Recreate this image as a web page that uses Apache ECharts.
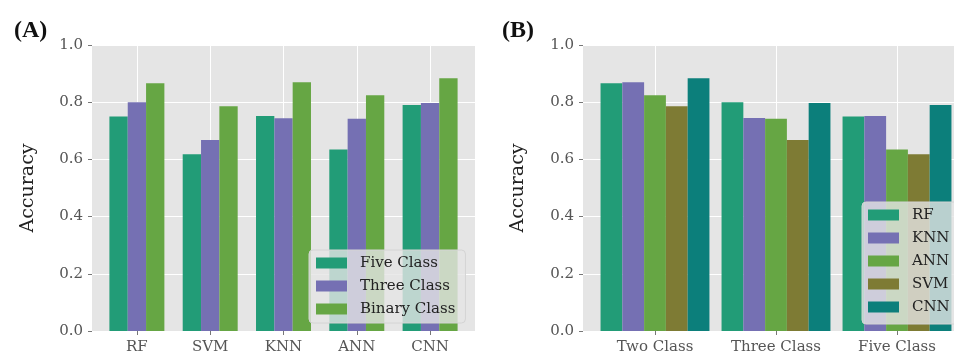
<!DOCTYPE html>
<html>
<head>
<meta charset="utf-8">
<script src="https://cdn.jsdelivr.net/npm/echarts@6/dist/echarts.min.js"></script>
<style>
html,body{margin:0;padding:0;background:#fff;}
#c{width:954px;height:355px;}
</style>
</head>
<body>
<div id="c"></div>
<script>
// ---- Panel A data ----
const catsA = ['RF', 'SVM', 'KNN', 'ANN', 'CNN'];
const namesA = ['Five Class', 'Three Class', 'Binary Class'];
const fiveClass   = [0.750, 0.618, 0.752, 0.635, 0.790];
const threeClass  = [0.800, 0.668, 0.744, 0.742, 0.797];
const binaryClass = [0.866, 0.786, 0.870, 0.824, 0.884];

// ---- Panel B data ----
const catsB = ['Two Class', 'Three Class', 'Five Class'];
const namesB = ['RF', 'KNN', 'ANN', 'SVM', 'CNN'];
const rfB  = [0.866, 0.800, 0.750];
const knnB = [0.870, 0.745, 0.752];
const annB = [0.824, 0.742, 0.635];
const svmB = [0.786, 0.668, 0.618];
const cnnB = [0.884, 0.797, 0.790];

const yTicks = [0.0, 0.2, 0.4, 0.6, 0.8, 1.0];

// ---- styling ----
const colorsA = ['#229c77', '#7570b3', '#66a644'];
const colorsB = ['#229c77', '#7570b3', '#66a644', '#7e7b34', '#0c7f7b'];
const serif = 'DejaVu Serif';
const gridA = {left: 92, width: 383, top: 45, bottom: 24};
const gridB = {left: 583, width: 386, top: 45, bottom: 24};

// matplotlib-like layout: bar width per category unit, 5% margins
function extentFor(nCats, nSeries, bw) {
  const half = nSeries * bw / 2;
  const lo = -half, hi = (nCats - 1) + half;
  const m = (hi - lo) * 0.05;
  return [lo - m, hi + m];
}
const bwA = 0.25, bwB = 0.18;
const extA = extentFor(catsA.length, namesA.length, bwA);
const extB = extentFor(catsB.length, namesB.length, bwB);
const pxA = gridA.width / (extA[1] - extA[0]);
const pxB = gridB.width / (extB[1] - extB[0]);

function groupData(vals, si, nSeries, bw) {
  const off = (si - (nSeries - 1) / 2) * bw;
  return vals.map((v, i) => [i + off, v]);
}

function xAxisFor(gi, cats, ext) {
  const idx = cats.map((c, i) => i);
  return {
    type: 'value', gridIndex: gi, min: ext[0], max: ext[1],
    axisLine: {show: false, onZero: false},
    axisTick: {show: true, length: 4, lineStyle: {color: '#777'}, customValues: idx},
    splitLine: {show: true, lineStyle: {color: '#ffffff', width: 1}},
    axisLabel: {
      margin: 9, color: '#555', fontFamily: serif, fontSize: 15, customValues: idx,
      formatter: v => (Math.abs(v - Math.round(v)) < 1e-9 && cats[Math.round(v)] !== undefined) ? cats[Math.round(v)] : ''
    }
  };
}
function yAxisFor(gi, gap) {
  return {
    type: 'value', gridIndex: gi, min: yTicks[0], max: yTicks[yTicks.length - 1], interval: 0.2,
    name: 'Accuracy', nameLocation: 'middle', nameRotate: 90, nameGap: gap,
    nameTextStyle: {fontFamily: serif, fontSize: 19, color: '#222'},
    axisLine: {show: false, onZero: false},
    axisTick: {show: true, length: 4, lineStyle: {color: '#777'}},
    splitLine: {show: true, lineStyle: {color: '#ffffff', width: 1}},
    axisLabel: {margin: 9, color: '#555', fontFamily: serif, fontSize: 15, formatter: v => v.toFixed(1)}
  };
}

const valsA = [fiveClass, threeClass, binaryClass];
const valsB = [rfB, knnB, annB, svmB, cnnB];

const series = [];
namesA.forEach((n, si) => series.push({
  type: 'bar', name: n, xAxisIndex: 0, yAxisIndex: 0,
  barWidth: bwA * pxA, barGap: '-100%',
  itemStyle: {color: colorsA[si]},
  data: groupData(valsA[si], si, namesA.length, bwA)
}));
namesB.forEach((n, si) => series.push({
  type: 'bar', name: n, xAxisIndex: 1, yAxisIndex: 1,
  barWidth: bwB * pxB, barGap: '-100%',
  itemStyle: {color: colorsB[si]},
  data: groupData(valsB[si], si, namesB.length, bwB)
}));

const legendCommon = {
  orient: 'vertical', selectedMode: false, icon: 'rect',
  itemWidth: 31, itemHeight: 11, itemGap: 7,
  backgroundColor: 'rgba(229,229,229,0.8)', borderColor: '#d4d4d4', borderWidth: 1, borderRadius: 4,
  textStyle: {fontFamily: serif, fontSize: 15, color: '#222', lineHeight: 16, padding: [0, 0, 0, 8]}
};

const option = {
  animation: false,
  backgroundColor: '#ffffff',
  title: [
    {text: '(A)', left: 9, top: 14, textStyle: {fontFamily: 'Liberation Serif', fontWeight: 'bold', fontSize: 24, color: '#111'}},
    {text: '(B)', left: 497, top: 14, textStyle: {fontFamily: 'Liberation Serif', fontWeight: 'bold', fontSize: 24, color: '#111'}}
  ],
  grid: [
    Object.assign({show: true, backgroundColor: '#e5e5e5', borderWidth: 0, outerBoundsMode: 'none', containLabel: false}, gridA),
    Object.assign({show: true, backgroundColor: '#e5e5e5', borderWidth: 0, outerBoundsMode: 'none', containLabel: false}, gridB)
  ],
  xAxis: [xAxisFor(0, catsA, extA), xAxisFor(1, catsB, extB)],
  yAxis: [yAxisFor(0, 54), yAxisFor(1, 55)],
  legend: [
    Object.assign({data: namesA, left: 309, top: 250, padding: [5, 10, 6, 7]}, legendCommon),
    Object.assign({data: namesB, left: 862, top: 202, padding: [5, 10, 9, 6]}, legendCommon)
  ],
  series: series
};

const chart = echarts.init(document.getElementById('c'), null, {renderer: 'canvas'});
chart.setOption(option);
</script>
</body>
</html>
